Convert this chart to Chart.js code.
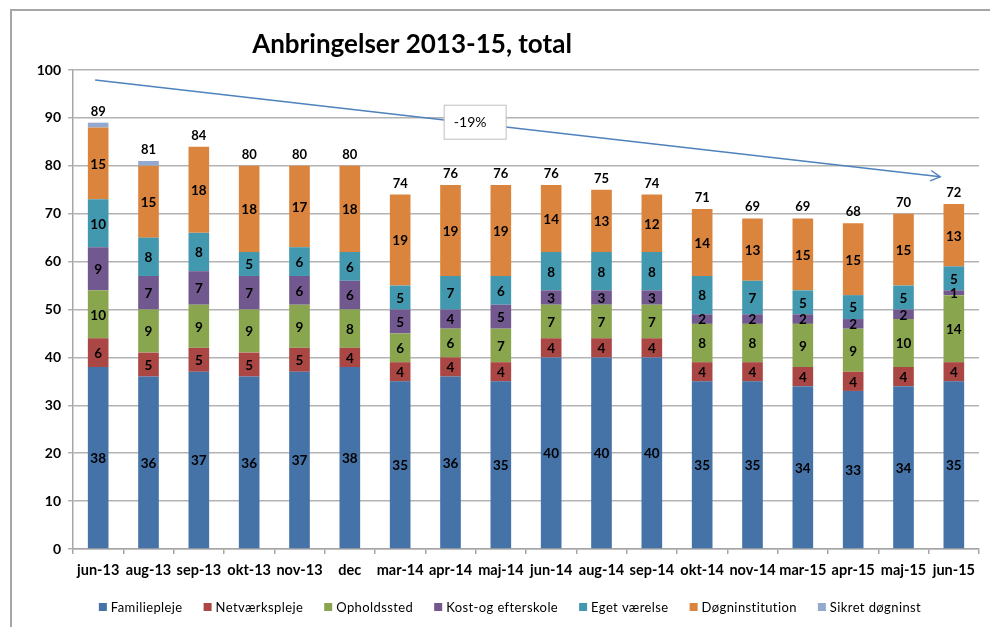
<!DOCTYPE html>
<html><head><meta charset="utf-8">
<script src="https://cdn.jsdelivr.net/npm/chart.js@4"></script>
<style>html,body{margin:0;padding:0;background:#fff;overflow:hidden;}</style>
</head><body><canvas id="c" width="990" height="627"></canvas>
<script>
const categories = ['jun-13','aug-13','sep-13','okt-13','nov-13','dec','mar-14','apr-14','maj-14','jun-14','aug-14','sep-14','okt-14','nov-14','mar-15','apr-15','maj-15','jun-15'];
const familiepleje    = [38,36,37,36,37,38,35,36,35,40,40,40,35,35,34,33,34,35];
const netvaerkspleje  = [6,5,5,5,5,4,4,4,4,4,4,4,4,4,4,4,4,4];
const opholdssted     = [10,9,9,9,9,8,6,6,7,7,7,7,8,8,9,9,10,14];
const kostEfterskole  = [9,7,7,7,6,6,5,4,5,3,3,3,2,2,2,2,2,1];
const egetVaerelse    = [10,8,8,5,6,6,5,7,6,8,8,8,8,7,5,5,5,5];
const doegninstitution= [15,15,18,18,17,18,19,19,19,14,13,12,14,13,15,15,15,13];
const sikretDoegninst = [1,1,0,0,0,0,0,0,0,0,0,0,0,0,0,0,0,0];
const yTicks = [0,10,20,30,40,50,60,70,80,90,100];
const chartTitle = 'Anbringelser 2013-15, total';
// trend arrow in data coordinates: [category index, value]
const trendStart = [-0.06, 97.9];
const trendEnd   = [16.73, 77.7];
const trendLabelAt = [7.49, 89.1];
const trendLabel = '-19%';

const FONT = 'Lato, "Open Sans", "DejaVu Sans", sans-serif';
const seriesNames = ['Familiepleje','Netværkspleje','Opholdssted','Kost-og efterskole','Eget værelse','Døgninstitution','Sikret døgninst'];
const seriesData = [familiepleje,netvaerkspleje,opholdssted,kostEfterskole,egetVaerelse,doegninstitution,sikretDoegninst];
const seriesColors = ['#4572A7','#AA4643','#89A54E','#71588F','#4198AF','#DB843D','#93A9CF'];
const labelled = [true,true,true,true,true,true,false];

const overlay = {
  id:'overlay',
  beforeDraw(chart){
    const c = chart.ctx;
    c.save();
    c.fillStyle = '#fff';
    c.fillRect(0,0,chart.width,chart.height);
    c.strokeStyle = '#a6a6a6';
    c.lineWidth = 2;
    c.strokeRect(11,10,1100,800);
    c.restore();
  },
  afterDatasetsDraw(chart){
    const c = chart.ctx;
    c.save();
    c.textAlign = 'center';
    c.textBaseline = 'middle';
    c.fillStyle = '#000';
    c.font = 'bold 13.5px ' + FONT;
    chart.data.datasets.forEach((ds, di) => {
      if (!labelled[di]) return;
      const meta = chart.getDatasetMeta(di);
      meta.data.forEach((el, i) => {
        const v = ds.data[i];
        if (!v) return;
        c.fillText(String(v), el.x, (el.y + el.base) / 2 + 1);
      });
    });
    // totals
    c.font = 'bold 13px ' + FONT;
    c.textBaseline = 'alphabetic';
    categories.forEach((cat, i) => {
      let top = null, total = 0;
      chart.data.datasets.forEach((ds, di) => {
        total += ds.data[i];
        if (ds.data[i] > 0) top = chart.getDatasetMeta(di).data[i];
      });
      if (top) c.fillText(String(total), top.x, top.y - 7);
    });
    c.restore();
  },
  afterDraw(chart){
    const c = chart.ctx;
    const xs = chart.scales.x, ys = chart.scales.y;
    const px = v => xs.getPixelForValue(0) + v * (xs.getPixelForValue(1) - xs.getPixelForValue(0));
    c.save();
    // title
    c.fillStyle = '#000';
    c.font = 'bold 26px ' + FONT;
    c.textAlign = 'center';
    c.textBaseline = 'middle';
    c.fillText(chartTitle, 412, 45);
    // trend arrow
    const x1 = px(trendStart[0]), y1 = ys.getPixelForValue(trendStart[1]);
    const x2 = px(trendEnd[0]), y2 = ys.getPixelForValue(trendEnd[1]);
    c.strokeStyle = '#4F81BD';
    c.lineWidth = 1.4;
    c.beginPath(); c.moveTo(x1,y1); c.lineTo(x2,y2); c.stroke();
    const ang = Math.atan2(y2-y1, x2-x1);
    const L = 11, A = 0.5;
    c.beginPath();
    c.moveTo(x2 - L*Math.cos(ang - A), y2 - L*Math.sin(ang - A));
    c.lineTo(x2, y2);
    c.lineTo(x2 - L*Math.cos(ang + A), y2 - L*Math.sin(ang + A));
    c.stroke();
    // label box
    const bx = px(trendLabelAt[0]), by = ys.getPixelForValue(trendLabelAt[1]);
    c.fillStyle = '#fff';
    c.fillRect(bx-31, by-17, 62, 34);
    c.strokeStyle = '#bfbfbf';
    c.lineWidth = 1;
    c.strokeRect(bx-31, by-17, 62, 34);
    c.fillStyle = '#000';
    c.font = '14px ' + FONT;
    c.fillText(trendLabel, bx-5, by);
    // legend
    c.font = '13px ' + FONT;
    c.letterSpacing = '0.4px';
    c.textAlign = 'left';
    const box = 8, gapText = 4, gapItem = 21;
    const widths = seriesNames.map(n => box + gapText + c.measureText(n).width);
    const total = widths.reduce((a,b)=>a+b,0) + gapItem*(seriesNames.length-1);
    let x = 510 - total/2;
    const ly = 607;
    seriesNames.forEach((n, i) => {
      c.fillStyle = seriesColors[i];
      c.fillRect(x, ly-4, box, box);
      c.fillStyle = '#000';
      c.fillText(n, x + box + gapText, ly + 1);
      x += widths[i] + gapItem;
    });
    c.restore();
  }
};

new Chart(document.getElementById('c'), {
  type: 'bar',
  data: {
    labels: categories,
    datasets: seriesNames.map((n, i) => ({
      label: n,
      data: seriesData[i],
      backgroundColor: seriesColors[i],
      borderWidth: 0,
      barPercentage: 0.41,
      categoryPercentage: 1.0
    }))
  },
  options: {
    responsive: false,
    animation: false,
    layout: { padding: { top: 70, right: 11, left: 0, bottom: 0 } },
    plugins: { legend: { display: false }, title: { display: false }, tooltip: { enabled: false } },
    scales: {
      x: {
        stacked: true,
        offset: true,
        grid: { display: true, drawOnChartArea: false, drawTicks: true, tickLength: 5, color: '#a6a6a6', lineWidth: 1.5, offset: true },
        border: { color: '#a6a6a6', width: 1.5 },
        ticks: { font: { family: FONT, size: 14.5, weight: 'bold' }, color: '#000', padding: 8, autoSkip: false, maxRotation: 0 },
        afterFit(s) { s.height = 78; }
      },
      y: {
        stacked: true,
        min: 0, max: 100,
        afterBuildTicks(s) { s.ticks = yTicks.map(v => ({ value: v })); },
        ticks: { font: { family: FONT, size: 14, weight: 'bold' }, color: '#000', padding: 7 },
        grid: { color: '#b3b3b3', lineWidth: 1.5, tickLength: 5, drawTicks: true },
        border: { color: '#a6a6a6', width: 1.5 },
        afterFit(s) { s.width = 73; }
      }
    }
  },
  plugins: [overlay]
});
</script>
</body></html>
